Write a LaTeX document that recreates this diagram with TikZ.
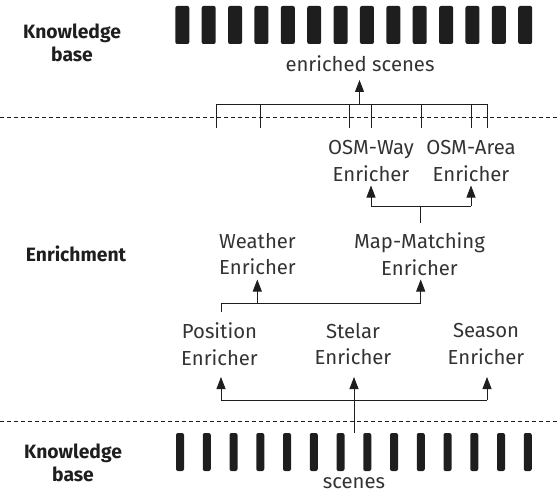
\documentclass[tikz,border=0pt]{standalone}
\usepackage{fontspec}
\setmainfont{Fira Sans}
\usetikzlibrary{arrows.meta,calc}
\definecolor{ink}{HTML}{1E1E1E}
\definecolor{txtc}{HTML}{333333}
\begin{document}
\begin{tikzpicture}[x=1pt,y=-1pt,
  txt/.style={inner sep=0pt, align=center, text=txtc, font=\fontsize{20.3}{26.6}\selectfont},
  lbl/.style={inner sep=0pt, align=center, text=ink, font=\fontsize{19.3}{23}\selectfont\bfseries},
  conn/.style={line width=0.85pt, draw=ink},
  arr/.style={conn, -{Triangle[length=12pt,width=9pt]}},
  sepline/.style={dash pattern=on 4pt off 3pt, line width=0.6pt, draw=ink},
  topbar/.style={fill=ink, rounded corners=2pt},
  botbar/.style={fill=ink, rounded corners=2pt},
  ]
\useasboundingbox (0,0) rectangle (559,497);

% separators
\draw[sepline] (0,117) -- (559,117);
\draw[sepline] (0,421) -- (559,421);

% knowledge base bars
\foreach \i in {0,...,13}
  \fill[topbar] ({175.3+\i*26.38},6) rectangle +(14,38);
\foreach \i in {0,...,13}
  \fill[botbar] ({176+\i*26.75},433) rectangle +(8,38);

% side labels
\node[lbl] (kbtop) at (72,43) {Knowledge\\base};
\node[lbl] (enrich) at (76,254) {Enrichment};
\node[lbl] (kbbot) at (73,463) {Knowledge\\base};

% texts
\node[txt] (enriched) at (360,64) {enriched scenes};
\node[txt] (scenes) at (354,483) {scenes};
\node[txt] (osmway) at (371,161) {OSM-Way\\Enricher};
\node[txt] (osmarea) at (471,161) {OSM-Area\\Enricher};
\node[txt] (weather) at (257.5,254) {Weather\\Enricher};
\node[txt] (mapm) at (419.5,254) {Map-Matching\\Enricher};
\node[txt] (position) at (219.5,344) {Position\\Enricher};
\node[txt] (stelar) at (353,344) {Stelar\\Enricher};
\node[txt] (season) at (486,344) {Season\\Enricher};

% level 1: scenes -> position / stelar / season
\coordinate (tip1) at (0,377);
\coordinate (src) at (354,433);
\draw[conn] (221,400) -- (487,400);
\draw[arr] (221,400) -- (221,377);
\draw[arr] (487,400) -- (487,377);
\draw[arr] (src) -- (src |- tip1);

% level 2: position -> weather / map-matching
\draw[conn] (221.5,312) -- (221.5,303) -- (420.7,303);
\draw[arr] (257.3,303) -- (257.3,279.5);
\draw[arr] (420.7,303) -- (420.7,279.5);

% level 3: map-matching -> osm-way / osm-area
\draw[conn] (420.7,223) -- (420.7,206);
\draw[conn] (371,206) -- (471,206);
\draw[arr] (371,206) -- (371,185.5);
\draw[arr] (471,206) -- (471,185.5);

% level 4: outputs -> enriched scenes
\draw[conn] (216,104) -- (487,104);
\foreach \x in {216,260,349,371,421,471,487}
  \draw[conn] (\x,104) -- (\x,128);
\draw[arr] (359.5,104) -- (359.5,80);
\end{tikzpicture}
\end{document}
